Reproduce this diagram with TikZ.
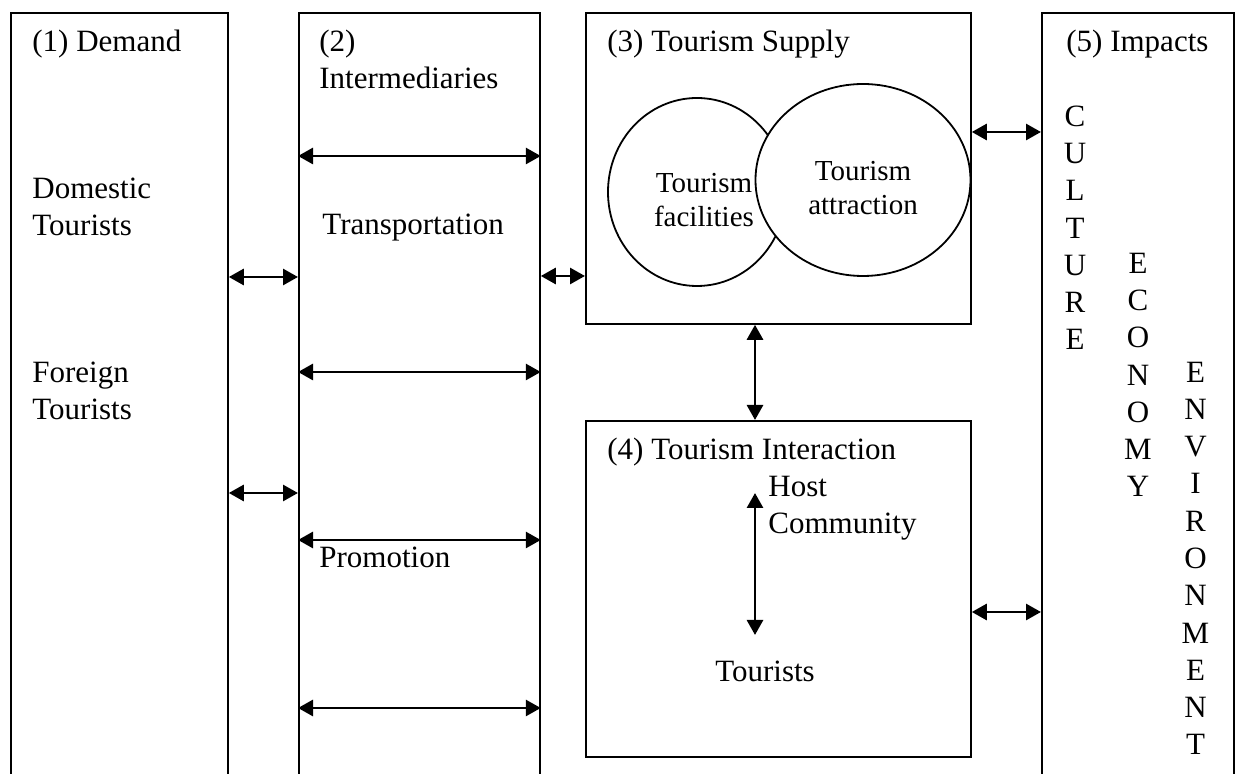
\documentclass[tikz,border=0pt]{standalone}
\usepackage{fontspec}
\setmainfont{Liberation Serif}
\usetikzlibrary{positioning, arrows.meta, shapes.geometric}

\begin{document}
\begin{tikzpicture}[x=0.5pt, y=-0.5pt,
    panel/.style={draw, line width=0.9pt, inner sep=0pt, anchor=north west},
    blob/.style={draw, ellipse, line width=0.9pt, inner sep=0pt, fill=white},
    arr/.style={{Triangle[length=7.5pt,width=8pt]}-{Triangle[length=7.5pt,width=8pt]}, line width=1.4pt},
    lbl/.style={anchor=base west, inner sep=0pt, align=left, font=\fontsize{15.5}{18.65}\selectfont},
    col/.style={anchor=base, inner sep=0pt, align=center, font=\fontsize{15.5}{18.65}\selectfont},
    small/.style={anchor=base, inner sep=0pt, align=center, font=\fontsize{14.5}{17}\selectfont}
]
\useasboundingbox (0,0) rectangle (1239,774);
\clip (0,0) rectangle (1239,774);

% Columns
\node[panel, minimum width=108.5pt, minimum height=400pt] (demand) at (10,12) {};
\node[panel, minimum width=120.5pt, minimum height=400pt] (inter) at (298,12) {};
\node[panel, minimum width=192.5pt, minimum height=155.5pt] (supply) at (585,12) {};
\node[panel, minimum width=192.5pt, minimum height=168pt] (interact) at (585,420) {};
\node[panel, minimum width=96pt, minimum height=400pt] (impacts) at (1041,12) {};

% Supply circles
\node[blob, minimum width=89pt, minimum height=94pt] (facil) at (697,192) {};
\node[blob, minimum width=107.5pt, minimum height=96pt] (attract) at (863,180) {};
\node[small] (facilT) at (704,227) {Tourism\\facilities};
\node[small] (attractT) at (863,215) {Tourism\\attraction};

% Labels (base = last line)
\node[lbl] (demandT) at (32,52) {(1) Demand};
\node[lbl] (domT) at (32,236) {Domestic\\Tourists};
\node[lbl] (forT) at (32,420) {Foreign\\Tourists};
\node[lbl] (interT) at (319,89) {(2)\\Intermediaries};
\node[lbl] (transT) at (322,235) {Transportation};
\node[lbl] (promoT) at (319,568) {Promotion};
\node[lbl] (supplyT) at (607,52) {(3) Tourism Supply};
\node[lbl] (interactT) at (607,460) {(4) Tourism Interaction};
\node[lbl] (hostT) at (768,534) {Host\\Community};
\node[col] (touT) at (765,682) {Tourists};
\node[lbl] (impactT) at (1066,52) {(5) Impacts};

% Impact columns
\node[col] (cult) at (1075,350) {C\\U\\L\\T\\U\\R\\E};
\node[col] (econ) at (1138,497) {E\\C\\O\\N\\O\\M\\Y};
\node[col] (envi) at (1195.5,755) {E\\N\\V\\I\\R\\O\\N\\M\\E\\N\\T};

% Arrows
\foreach \y in {156,372,540,708}
  \draw[arr] (inter.west |- 0,\y) -- (inter.east |- 0,\y);
\foreach \y in {277,493}
  \draw[arr] (demand.east |- 0,\y) -- (inter.west |- 0,\y);
\draw[arr] (inter.east |- 0,276) -- (supply.west |- 0,276);
\draw[arr] (supply.south -| 755,0) -- (interact.north -| 755,0);
\draw[arr] (supply.east |- 0,132) -- (impacts.west |- 0,132);
\draw[arr] (interact.east |- 0,612) -- (impacts.west |- 0,612);

% Host <-> tourists
\coordinate (hostEnd) at (755,493);
\coordinate (touEnd) at (755,635);
\draw[arr] (hostEnd) -- (touEnd);

\end{tikzpicture}
\end{document}
